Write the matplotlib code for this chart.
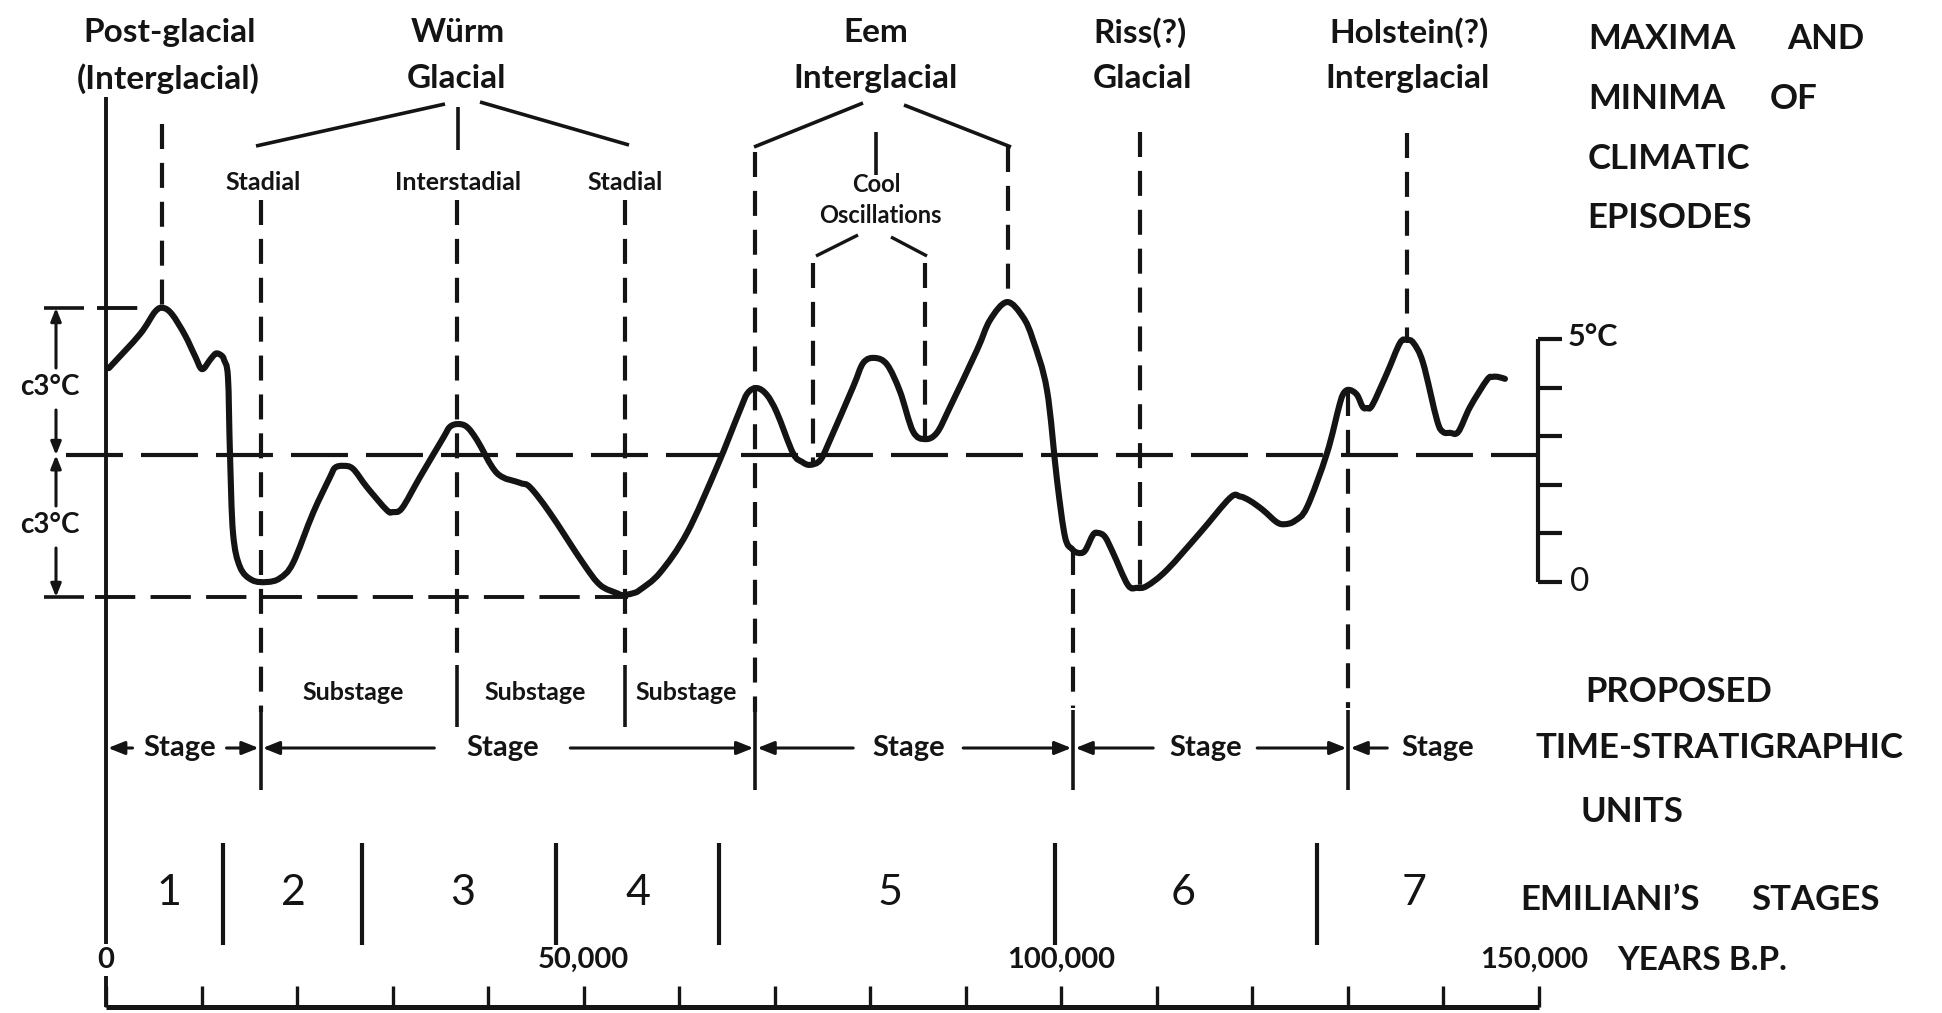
import numpy as np
import matplotlib
matplotlib.use("Agg")
import matplotlib.pyplot as plt
from matplotlib.path import Path
from matplotlib.patches import PathPatch

# ---------------------------------------------------------------- data
# temperature curve: years B.P. and temperature (deg C on the 0-5 scale)
curve_years = [300, 3560, 5130, 5970, 6910, 8270, 9320, 10050, 10890, 11410,
               11730, 12150, 12360, 12770, 12980, 13300, 14030, 15290, 16860, 18220,
               19580, 21680, 23460, 23980, 24820, 25860, 27330, 29400, 30050, 31000,
               32880, 35290, 36000, 36860, 37800, 38850, 40940, 43350, 44400, 46490,
               49950, 51730, 53500, 54140, 55200, 55920, 58010, 60840, 63980, 66390,
               67200, 68170, 69200, 70260, 71940, 72900, 73720, 74800, 75810, 78220,
               79300, 80520, 81800, 83140, 84500, 85760, 87000, 88380, 91200, 92570,
               94350, 96020, 97070, 98530, 99580, 100420, 101150, 101780, 102500, 103350,
               103870, 104600, 105450, 107000, 107960, 109000, 111100, 114550, 117700, 118740,
               119800, 121150, 122600, 123460, 124500, 125760, 127850, 129210, 129700, 130260,
               131000, 131600, 132040, 132600, 134140, 135500, 136230, 136900, 137910, 139370,
               140000, 140730, 141600, 142830, 144610, 145200, 145760, 146490]
curve_temp = [4.40, 5.10, 5.56, 5.64, 5.51, 5.08, 4.65, 4.38, 4.57, 4.69,
              4.70, 4.65, 4.57, 4.22, 2.65, 1.01, 0.31, 0.04, 0.00, 0.08,
              0.39, 1.42, 2.16, 2.35, 2.39, 2.33, 1.95, 1.48, 1.44, 1.52,
              2.16, 2.96, 3.19, 3.25, 3.19, 2.92, 2.24, 2.04, 1.95, 1.42,
              0.39, -0.06, -0.23, -0.27, -0.23, -0.16, 0.19, 1.01, 2.37, 3.54,
              3.89, 3.99, 3.85, 3.48, 2.65, 2.47, 2.41, 2.51, 2.92, 4.01,
              4.51, 4.61, 4.47, 3.92, 3.10, 2.94, 3.07, 3.60, 4.77, 5.39,
              5.76, 5.45, 4.98, 3.95, 2.10, 0.93, 0.68, 0.60, 0.64, 0.97,
              1.01, 0.93, 0.60, -0.06, -0.12, -0.08, 0.25, 1.01, 1.73, 1.76,
              1.67, 1.48, 1.23, 1.19, 1.26, 1.54, 2.65, 3.68, 3.91, 3.95,
              3.85, 3.60, 3.58, 3.64, 4.30, 4.92, 4.98, 4.92, 4.51, 3.33,
              3.09, 3.07, 3.09, 3.60, 4.16, 4.22, 4.22, 4.18]

# reference levels (deg C)
level_max = 5.64
level_mean = 2.61
level_min = -0.31

# maxima / minima of climatic episodes (years B.P.)
episode_years = [5900, 16200, 36800, 54300, 68000, 74000, 85800, 94400, 108300, 136200]
episode_titles = [("Post-glacial", "(Interglacial)"), ("Würm", "Glacial"),
                  ("Eem", "Interglacial"), ("Riss(?)", "Glacial"),
                  ("Holstein(?)", "Interglacial")]
episode_subtitles = ["Stadial", "Interstadial", "Stadial"]

# proposed time-stratigraphic units
stage_boundaries = [0, 16200, 68000, 101300, 130100]
stage_label_years = [7700, 41500, 84000, 115100, 139400]
substage_boundaries = [36800, 54300]
substage_label_years = [25900, 44900, 60700]

# Emiliani's stages
emiliani_bounds = [12250, 26800, 47100, 64200, 99400, 126800]
emiliani_label_years = [6600, 19600, 37300, 55700, 82100, 112800, 137000]
emiliani_labels = ["1", "2", "3", "4", "5", "6", "7"]

# axis
axis_ticks = [0, 10000, 20000, 30000, 40000, 50000, 60000, 70000,
              80000, 90000, 100000, 110000, 120000, 130000, 140000, 150000]
axis_label_years = [0, 50000, 100000]
axis_labels = ["0", "50,000", "100,000"]
scale_ticks = [0, 1, 2, 3, 4, 5]

# ---------------------------------------------------------------- layout
W, H = 1942, 1013
X0_PX, PX_PER_YR = 106, 0.00955
Y0_PX, PX_PER_DEG = 582, 48.6
INK = "#141414"
FONT = ["Lato", "DejaVu Sans"]

plt.rcParams["lines.scale_dashes"] = False
plt.rcParams["font.family"] = FONT

def X(px):
    return (px - X0_PX) / PX_PER_YR

def Y(py):
    return (Y0_PX - py) / PX_PER_DEG

fig = plt.figure(figsize=(W / 100, H / 100), dpi=100)
fig.patch.set_facecolor("white")
ax = fig.add_axes([0, 0, 1, 1])
ax.set_xlim(X(0), X(W))
ax.set_ylim(Y(H), Y(0))
ax.axis("off")

def line(xs, ys, lw=2.8, dashes=None):
    l, = ax.plot(xs, ys, color=INK, lw=lw, solid_capstyle="butt",
                 dash_capstyle="butt")
    if dashes is not None:
        l.set_dashes(dashes)
    return l

def txt(x, y, s, size, ha="center", weight="bold", va="center"):
    ax.text(x, y, s, fontsize=size, ha=ha, va=va, color=INK,
            fontweight=weight, family=FONT)

def arrow(x0, y0, x1, y1, lw=2.2, ms=18):
    ax.annotate("", xy=(x1, y1), xytext=(x0, y0),
                arrowprops=dict(arrowstyle="-|>,head_length=0.55,head_width=0.22",
                                color=INK, lw=lw, mutation_scale=ms,
                                shrinkA=0, shrinkB=0))

def curve_at(year):
    return float(np.interp(year, curve_years, curve_temp))

def smooth_path(xs, ys):
    """Cubic Bezier path passing through every read point (Catmull-Rom tangents)."""
    P = np.column_stack([xs, ys]).astype(float)
    n = len(P)
    verts = [P[0]]
    codes = [Path.MOVETO]
    for i in range(n - 1):
        p0 = P[i - 1] if i > 0 else P[i]
        p1, p2 = P[i], P[i + 1]
        p3 = P[i + 2] if i + 2 < n else P[i + 1]
        verts += [p1 + (p2 - p0) / 6.0, p2 - (p3 - p1) / 6.0, p2]
        codes += [Path.CURVE4] * 3
    return Path(verts, codes)

VDASH = (18, 10)

# ---------------------------------------------------------------- curve
ax.add_patch(PathPatch(smooth_path(curve_years, curve_temp), fill=False,
                       edgecolor=INK, lw=4.4, joinstyle="round",
                       capstyle="round", zorder=5))

# ---------------------------------------------------------------- level lines
line([X(97), X(150)], [level_max] * 2, lw=2.8, dashes=(29, 11))
line([X(66), X(1538)], [level_mean] * 2, lw=3.0, dashes=(41, 13))
line([X(95), X(628)], [level_min] * 2, lw=2.8, dashes=(29, 11))
line([X(44), X(84)], [level_max] * 2, lw=2.6)
line([X(44), X(84)], [level_min] * 2, lw=2.6)

# dimension arrows "c3°C"
dx = X(56)
arrow(dx, Y(368), dx, level_max, ms=14)
arrow(dx, Y(410), dx, level_mean, ms=14)
arrow(dx, Y(506), dx, level_mean, ms=14)
arrow(dx, Y(548), dx, level_min, ms=14)
txt(X(50), Y(387), "c3°C", 20, weight="bold")
txt(X(50), Y(525), "c3°C", 20, weight="bold")

# ---------------------------------------------------------------- episode marker lines
ep_top_px = [124, 200, 200, 200, 152, 263, 263, 147, 132, 133]
ep_bottom_px = [None, 712, 655, 655, 712, None, None, None, None, None]
for yr, top, bot in zip(episode_years, ep_top_px, ep_bottom_px):
    yb = curve_at(yr) if bot is None else Y(bot)
    line([yr, yr], [Y(top), yb], lw=3.0, dashes=VDASH)

# stage boundaries starting at the curve
for yr in stage_boundaries[3:]:
    line([yr, yr], [curve_at(yr), Y(708)], lw=3.0, dashes=VDASH)

# ---------------------------------------------------------------- titles and brackets
title_px = [(170, 168), (458, 456), (876, 876), (1140, 1142), (1409, 1408)]
for (t1, t2), (p1, p2) in zip(episode_titles, title_px):
    txt(X(p1), Y(33), t1, 24)
    txt(X(p2), Y(79), t2, 24)

for s, px in zip(episode_subtitles, [263, 458, 625]):
    txt(X(px), Y(183), s, 18)
txt(X(876), Y(185), "Cool", 17)
txt(X(880), Y(216), "Oscillations", 17)

# Würm bracket
line([X(445), X(256)], [Y(104), Y(146)], lw=2.6)
line([X(458), X(458)], [Y(107), Y(150)], lw=2.6)
line([X(480), X(629)], [Y(102), Y(145)], lw=2.6)
# Eem bracket
line([X(863), X(754)], [Y(103), Y(147)], lw=2.6)
line([X(876), X(876)], [Y(132), Y(175)], lw=2.6)
line([X(904), X(1011)], [Y(105), Y(147)], lw=2.6)
# cool oscillations bracket
line([X(858), X(816)], [Y(235), Y(256)], lw=2.4)
line([X(891), X(927)], [Y(237), Y(256)], lw=2.4)

# right-hand headings
txt(X(1588), Y(39), "MAXIMA", 25, ha="left")
txt(X(1787), Y(39), "AND", 25, ha="left")
txt(X(1588), Y(99), "MINIMA", 25, ha="left")
txt(X(1770), Y(99), "OF", 25, ha="left")
txt(X(1588), Y(159), "CLIMATIC", 25, ha="left")
txt(X(1587), Y(218), "EPISODES", 25, ha="left")

# ---------------------------------------------------------------- temperature scale
sx = X(1538)
line([sx, sx], [scale_ticks[0], scale_ticks[-1]], lw=3.0)
for v in scale_ticks:
    line([sx, X(1562)], [v, v], lw=3.0)
txt(X(1568), scale_ticks[-1] + Y(337) - Y(339), "5°C", 22, ha="left", weight="bold")
txt(X(1570), scale_ticks[0], "0", 24, ha="left", weight="normal")

# ---------------------------------------------------------------- substages and stages
for yr in substage_boundaries:
    line([yr, yr], [Y(665), Y(727)], lw=2.6)
for yr in substage_label_years:
    txt(yr, Y(693), "Substage", 18)

row = Y(748)
for yr in stage_boundaries[1:]:
    line([yr, yr], [Y(710), Y(790)], lw=2.6)
gaps_px = [47, 68, 55, 52, 50]
for i, (c, g) in enumerate(zip(stage_label_years, gaps_px)):
    txt(c, row, "Stage", 21)
    g_yr = g / PX_PER_YR
    arrow(c - g_yr, row, stage_boundaries[i] + 2 / PX_PER_YR, row)
    if i + 1 < len(stage_boundaries):
        arrow(c + g_yr, row, stage_boundaries[i + 1] - 2 / PX_PER_YR, row)

txt(X(1585), Y(692), "PROPOSED", 25, ha="left")
txt(X(1535), Y(748), "TIME-STRATIGRAPHIC", 25, ha="left")
txt(X(1580), Y(812), "UNITS", 25, ha="left")

# ---------------------------------------------------------------- Emiliani's stages
for yr in emiliani_bounds:
    line([yr, yr], [Y(843), Y(945)], lw=3.0)
for yr, s in zip(emiliani_label_years, emiliani_labels):
    txt(yr, Y(893), s, 31, weight="normal")
txt(X(1520), Y(900), "EMILIANI’S", 25, ha="left")
txt(X(1751), Y(900), "STAGES", 25, ha="left")

# ---------------------------------------------------------------- time axis
ybase = Y(1007)
line([axis_ticks[0], axis_ticks[-1]], [ybase, ybase], lw=3.6)
for t in axis_ticks:
    line([t, t], [ybase, Y(986)], lw=2.4)
line([0, 0], [Y(97), Y(944)], lw=2.8)
line([0, 0], [Y(976), ybase], lw=2.8)
for t, s in zip(axis_label_years, axis_labels):
    txt(t, Y(960), s, 21)
txt(X(1480), Y(960), "150,000", 21, ha="left")
txt(X(1617), Y(960), "YEARS B.P.", 24, ha="left")

fig.savefig("out.png", dpi=100, facecolor="white")
